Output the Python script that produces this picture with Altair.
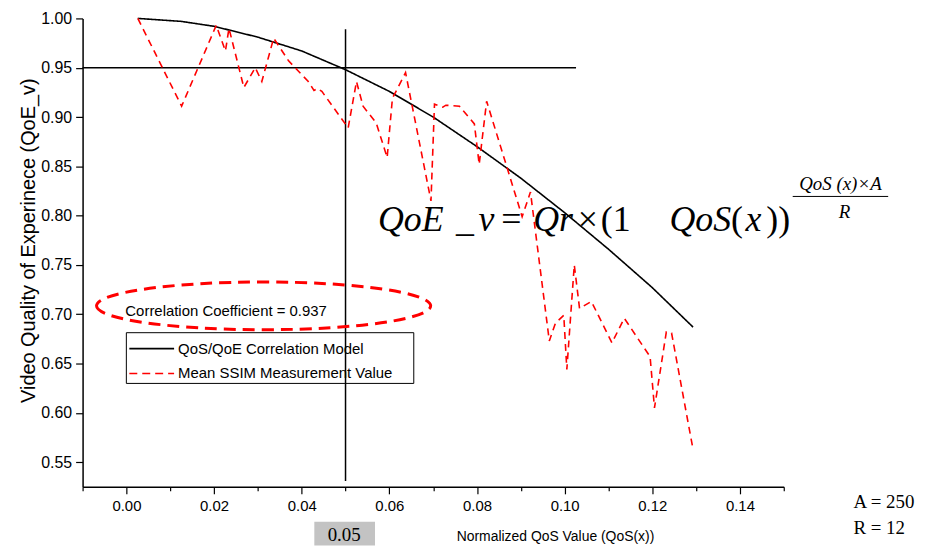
import altair as alt
import pandas as pd

# ---- data ----
ssim_qos = [0.0026, 0.0126, 0.0205, 0.0226, 0.0234, 0.0268, 0.0294, 0.0309, 0.0336, 0.0370,
            0.0415, 0.0428, 0.0436, 0.0446, 0.0506, 0.0525, 0.0540, 0.0570, 0.0595, 0.0607,
            0.0637, 0.0695, 0.0703, 0.0722, 0.0729, 0.0760, 0.0794, 0.0805, 0.0822, 0.0903,
            0.0922, 0.0965, 0.0979, 0.0998, 0.1005, 0.1022, 0.1034, 0.1061, 0.1108, 0.1136,
            0.1195, 0.1205, 0.1232, 0.1244, 0.1293]
ssim_qoe = [1.000, 0.911, 0.993, 0.967, 0.990, 0.930, 0.950, 0.936, 0.980, 0.957,
            0.936, 0.927, 0.929, 0.926, 0.889, 0.936, 0.911, 0.894, 0.859, 0.919,
            0.945, 0.815, 0.913, 0.910, 0.912, 0.911, 0.893, 0.852, 0.916, 0.799,
            0.824, 0.673, 0.691, 0.699, 0.644, 0.750, 0.706, 0.713, 0.671, 0.696,
            0.657, 0.605, 0.682, 0.681, 0.563]

model_qos = [0.0026, 0.0125, 0.02, 0.03, 0.04, 0.05, 0.06, 0.07, 0.08, 0.09, 0.10, 0.11, 0.12, 0.1293]
model_qoe = [1.000, 0.997, 0.992, 0.981, 0.967, 0.948, 0.926, 0.900, 0.870, 0.838, 0.803, 0.766, 0.727, 0.687]

series_names = ["QoS/QoE Correlation Model", "Mean SSIM Measurement Value"]

hline_x = [-0.01, 0.1026]
hline_y = 0.95
vline_x = 0.05
vline_y = [0.531, 0.989]

x_ticks = [round(-0.01 + 0.01 * i, 2) for i in range(17)]
y_ticks = [round(0.55 + 0.025 * i, 3) for i in range(19)]

df = pd.concat([
    pd.DataFrame({"qos": model_qos, "qoe": model_qoe, "series": series_names[0], "order": range(len(model_qos))}),
    pd.DataFrame({"qos": ssim_qos, "qoe": ssim_qoe, "series": series_names[1], "order": range(len(ssim_qos))}),
])

SANS = "Liberation Sans"
SERIF = "Liberation Serif"

xscale = alt.Scale(domain=[-0.01, 0.15], nice=False, zero=False)
yscale = alt.Scale(domain=[0.525, 1.0], nice=False, zero=False)

x_axis = alt.Axis(
    values=x_ticks, grid=False, domainColor="black", domainWidth=1.5,
    tickColor="black", tickWidth=1.2,
    tickSize={"condition": {"test": "round(datum.value*100) % 2 == 0", "value": 7}, "value": 4},
    labelExpr="round(datum.value*100) % 2 == 0 ? format(datum.value, '.2f') : ''",
    labelFont=SANS, labelFontSize=15, labelColor="black", labelPadding=5,
    title="Normalized QoS Value (QoS(x))", titleFont=SANS, titleFontSize=14,
    titleFontWeight="normal", titleColor="black",
    titleX=475, titleY=50, titleBaseline="middle", titleAlign="center",
)
y_axis = alt.Axis(
    values=y_ticks, grid=False, domainColor="black", domainWidth=1.5,
    tickColor="black", tickWidth=1.2,
    tickSize={"condition": {"test": "round(datum.value*1000) % 50 == 0", "value": 7}, "value": 4},
    labelExpr="round(datum.value*1000) % 50 == 0 ? format(datum.value, '.2f') : ''",
    labelFont=SANS, labelFontSize=16, labelColor="black", labelPadding=4,
    title="Video Quality of Experinece (QoE_v)", titleFont=SANS, titleFontSize=20,
    titleFontWeight="normal", titleColor="black",
    titleX=-54, titleY=223, titleAngle=270, titleBaseline="middle", titleAlign="center",
)

color_scale = alt.Scale(domain=series_names, range=["black", "#ff0000"])
dash_scale = alt.Scale(domain=series_names, range=[[1, 0], [7, 5]])

lines = alt.Chart(df).mark_line(strokeWidth=1.6).encode(
    x=alt.X("qos:Q", scale=xscale, axis=x_axis),
    y=alt.Y("qoe:Q", scale=yscale, axis=y_axis),
    color=alt.Color("series:N", scale=color_scale, legend=None),
    strokeDash=alt.StrokeDash("series:N", scale=dash_scale, legend=None),
    order="order:Q",
)

hline = alt.Chart(pd.DataFrame({"x": [hline_x[0]], "x2": [hline_x[1]], "y": [hline_y]})).mark_rule(
    color="black", strokeWidth=1.5).encode(x=alt.X("x:Q", scale=xscale), x2="x2:Q", y=alt.Y("y:Q", scale=yscale))
vline = alt.Chart(pd.DataFrame({"x": [vline_x], "y": [vline_y[0]], "y2": [vline_y[1]]})).mark_rule(
    color="black", strokeWidth=1.5).encode(x=alt.X("x:Q", scale=xscale), y=alt.Y("y:Q", scale=yscale), y2="y2:Q")

one = pd.DataFrame({"_": [0]})


def label(txt, x, y, size, font=SANS, style="normal", align="left", baseline="middle"):
    return alt.Chart(one).mark_text(text=txt, font=font, fontSize=size, fontStyle=style,
                                    align=align, baseline=baseline, color="black").encode(
        x=alt.value(x), y=alt.value(y))


ellipse = alt.Chart(one).mark_point(
    shape="M-1,0A1,0.143,0,1,0,1,0A1,0.143,0,1,0,-1,0Z", filled=False, color="#ff0000",
    strokeWidth=3, strokeDash=[12, 7], opacity=1, size=112896).encode(x=alt.value(182), y=alt.value(289))

gray_box = alt.Chart(one).mark_rect(color="#c3c3c3").encode(
    x=alt.value(233), x2=alt.value(294), y=alt.value(506), y2=alt.value(530))
frac_bar = alt.Chart(one).mark_rule(color="black", strokeWidth=1).encode(
    x=alt.value(714), x2=alt.value(810), y=alt.value(179))

# legend box (drawn by hand to match the reference's compact frame)
legend_box = alt.Chart(one).mark_rect(fillOpacity=0, stroke="black", strokeWidth=1).encode(
    x=alt.value(44), x2=alt.value(333), y=alt.value(316), y2=alt.value(367))
legend_solid = alt.Chart(one).mark_rule(color="black", strokeWidth=1.6).encode(
    x=alt.value(47), x2=alt.value(92), y=alt.value(332))
legend_dash = alt.Chart(one).mark_rule(color="#ff0000", strokeWidth=1.6, strokeDash=[8, 5]).encode(
    x=alt.value(47), x2=alt.value(92), y=alt.value(357))

eq_y = 214
EQ = 36
annotations = [
    label("Correlation Coefficient = 0.937", 43, 294, 15),
    label(series_names[0], 96, 332, 15),
    label(series_names[1], 96, 357, 15),
    label("0.05", 263, 519, 19, font=SERIF, align="center"),
    label("A = 250", 775, 486, 19, font=SERIF),
    label("R = 12", 775, 512, 19, font=SERIF),
    label("QoE", 330, eq_y, EQ, font=SERIF, style="italic", align="center", baseline="alphabetic"),
    label("_", 384.5, eq_y, EQ, font=SERIF, style="italic", align="center", baseline="alphabetic"),
    label("v", 406, eq_y, EQ, font=SERIF, style="italic", align="center", baseline="alphabetic"),
    label("=", 431, eq_y, EQ, font=SERIF, align="center", baseline="alphabetic"),
    label("Qr", 473, eq_y, EQ, font=SERIF, style="italic", align="center", baseline="alphabetic"),
    label("\u00d7", 508, eq_y, EQ, font=SERIF, align="center", baseline="alphabetic"),
    label("(1", 536, eq_y, EQ, font=SERIF, align="center", baseline="alphabetic"),
    label("QoS", 621, eq_y, EQ, font=SERIF, style="italic", align="center", baseline="alphabetic"),
    label("(", 658, eq_y, EQ, font=SERIF, align="center", baseline="alphabetic"),
    label("x", 674.5, eq_y, EQ, font=SERIF, style="italic", align="center", baseline="alphabetic"),
    label("))", 699.5, eq_y, EQ, font=SERIF, align="center", baseline="alphabetic"),
    label("QoS (x)\u00d7A", 762, 173, 19, font=SERIF, style="italic", align="center", baseline="alphabetic"),
    label("R", 766, 201, 19, font=SERIF, style="italic", align="center", baseline="alphabetic"),
]

chart = alt.layer(
    hline, vline, lines, ellipse, gray_box, frac_bar, legend_box, legend_solid, legend_dash, *annotations
).properties(
    width=705, height=471,
    autosize=alt.AutoSizeParams(type="none"),
    padding={"left": 75, "top": 9, "right": 139, "bottom": 59},
).configure_view(stroke=None)

chart.save("out.html", embed_options={"renderer": "svg", "actions": False})
